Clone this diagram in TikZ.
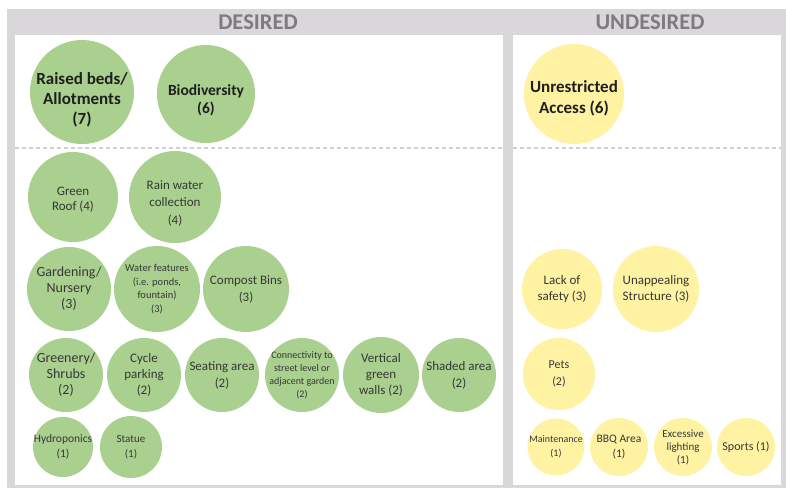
\documentclass[tikz,border=0pt]{standalone}
\usepackage{fontspec}
\setmainfont{Carlito}
\definecolor{framegray}{RGB}{217,215,217}
\definecolor{headgray}{RGB}{125,123,125}
\definecolor{dashgray}{RGB}{208,208,208}
\definecolor{wantgreen}{RGB}{169,208,142}
\definecolor{avoidyellow}{RGB}{255,242,163}
\definecolor{labelgray}{RGB}{55,55,55}
\definecolor{boldgray}{RGB}{30,30,30}
\newcommand{\fsz}[2]{\fontsize{#1}{#2}\selectfont}

\begin{document}
\begin{tikzpicture}[x=1pt, y=-1pt,
    want/.style={circle, fill=wantgreen, inner sep=-14pt, align=center, text=labelgray, minimum size=#1},
    avoid/.style={circle, fill=avoidyellow, inner sep=-14pt, align=center, text=labelgray, minimum size=#1},
    heading/.style={text=headgray, font=\fsz{22.5}{26}\bfseries},
    topitem/.style={text=boldgray, font=\fsz{17}{20}\bfseries}]
    \useasboundingbox (0,0) rectangle (786,488);
    % frame and panels
    \fill[framegray] (7,9) rectangle (786,488);
    \fill[white] (15,35) rectangle (503,485);
    \fill[white] (513,35) rectangle (781,485);
    \draw[dashgray, line width=1.2pt, dash pattern=on 4pt off 3pt] (15,148) -- (503,148);
    \draw[dashgray, line width=1.2pt, dash pattern=on 4pt off 3pt] (513,148) -- (781,148);
    \node[heading] (desired) at (258,22) {DESIRED};
    \node[heading] (undesired) at (650,22) {UNDESIRED};

    % desired
    \node[want=104pt, topitem, text height=68pt] (raised) at (82,92) {Raised beds/\\Allotments\\(7)};
    \node[want=98pt, topitem, font=\fsz{15.5}{18}\bfseries, text height=41pt] (biodiv) at (206,94) {Biodiversity\\(6)};
    \node[want=90pt, font=\fsz{13}{15}, text height=28pt] (roof) at (73,197) {Green\\Roof (4)};
    \node[want=92pt, font=\fsz{13}{17.5}, text height=56pt] (rain) at (175,197) {Rain water\\collection\\(4)};
    \node[want=84pt, font=\fsz{14}{16}] (garden) at (69,289) {Gardening/\\Nursery\\(3)};
    \node[want=86pt, font=\fsz{10.5}{13.5}] (water) at (157,289) {Water features\\(i.e. ponds,\\fountain)\\(3)};
    \node[want=86pt, font=\fsz{13}{17}] (compost) at (246,289) {Compost Bins\\(3)};
    \node[want=74pt, font=\fsz{14}{16}] (greenery) at (66,375) {Greenery/\\Shrubs\\(2)};
    \node[want=74pt, font=\fsz{13}{16}] (cycle) at (144,375) {Cycle\\parking\\(2)};
    \node[want=74pt, font=\fsz{13}{17}] (seating) at (222,375) {Seating area\\(2)};
    \node[want=74pt, font=\fsz{10}{13}] (connect) at (302,375) {Connectivity to\\street level or\\adjacent garden\\(2)};
    \node[want=76pt, font=\fsz{13}{16}] (vertical) at (381,375) {Vertical\\green\\walls (2)};
    \node[want=74pt, font=\fsz{13}{17}] (shaded) at (459,375) {Shaded area\\(2)};
    \node[want=60pt, font=\fsz{11.5}{15}] (hydro) at (63,447) {Hydroponics\\(1)};
    \node[want=62pt, font=\fsz{11}{15}] (statue) at (131,447) {Statue\\(1)};

    % undesired
    \node[avoid=100pt, topitem, font=\fsz{17}{21}\bfseries, text height=41pt] (access) at (574,94) {Unrestricted\\Access (6)};
    \node[avoid=80pt, font=\fsz{13}{16}] (safety) at (562,289) {Lack of\\safety (3)};
    \node[avoid=86pt, font=\fsz{13}{16}] (unappeal) at (656,289) {Unappealing\\Structure (3)};
    \node[avoid=72pt, font=\fsz{12}{17}] (pets) at (559,374) {Pets\\(2)};
    \node[avoid=57pt, font=\fsz{10}{14}] (maint) at (556,447) {Maintenance\\(1)};
    \node[avoid=58pt, font=\fsz{11.5}{15}] (bbq) at (619,447) {BBQ Area\\(1)};
    \node[avoid=58pt, font=\fsz{11}{13}] (lighting) at (683,447) {Excessive\\lighting\\(1)};
    \node[avoid=58pt, font=\fsz{12}{15}] (sports) at (746,447) {Sports (1)};
\end{tikzpicture}
\end{document}
